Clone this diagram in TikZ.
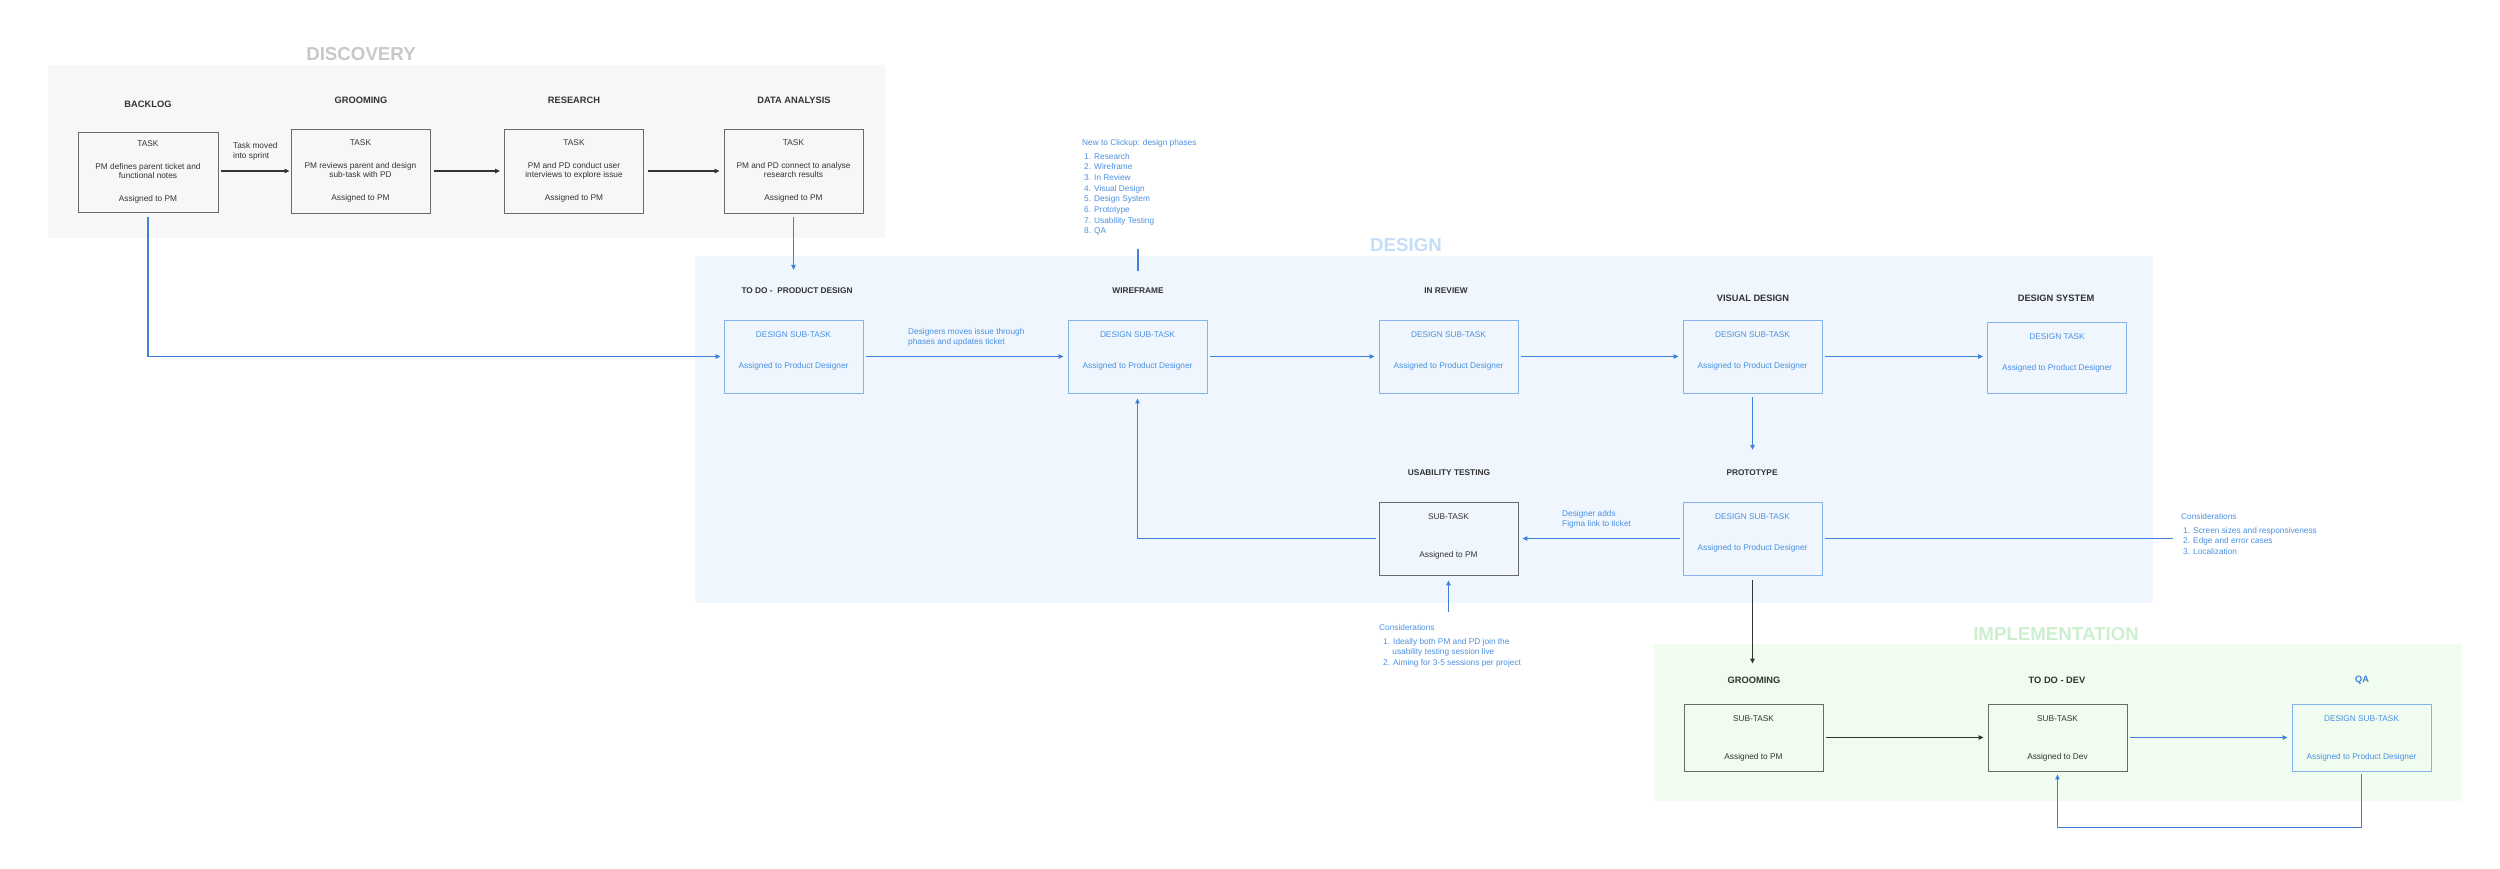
\documentclass[tikz,border=0pt]{standalone}
\usepackage{fontspec}
\setmainfont{Liberation Sans}
\usetikzlibrary{arrows.meta,calc}
\definecolor{ink}{HTML}{333333}
\definecolor{boxline}{HTML}{6A6A6A}
\definecolor{bluetxt}{HTML}{4A8FE2}
\definecolor{blueline}{HTML}{3F80D8}
\definecolor{blueedge}{HTML}{86B3EE}
\definecolor{discfill}{HTML}{F7F7F7}
\definecolor{disctitle}{HTML}{C8C8C8}
\definecolor{desfill}{HTML}{EFF6FD}
\definecolor{destitle}{HTML}{C4DEF8}
\definecolor{impfill}{HTML}{EFFCEF}
\definecolor{imptitle}{HTML}{CBEFCF}
\begin{document}
\begin{tikzpicture}[x=1pt,y=-1pt,
  ptitle/.style={font=\fontsize{18.7}{20}\selectfont\bfseries, inner sep=0},
  lbl/.style={font=\fontsize{9.3}{11}\selectfont\bfseries, text=ink, inner sep=0},
  slbl/.style={font=\fontsize{8.3}{10}\selectfont\bfseries, text=ink, inner sep=0},
  kbox/.style={draw=boxline, line width=0.9pt, minimum width=139pt, inner sep=0},
  bbox/.style={draw=blueedge, line width=0.9pt, minimum width=139pt, inner sep=0},
  ktx/.style={font=\fontsize{8.3}{9.8}\selectfont, text=ink, align=center, inner sep=0},
  btx/.style={font=\fontsize{8.3}{9.8}\selectfont, text=bluetxt, align=center, inner sep=0},
  note/.style={font=\fontsize{8.3}{10.67}\selectfont, text=bluetxt, align=left, inner sep=0, anchor=north west},
  karrow/.style={draw=ink, line width=1.1pt, -{Triangle[length=5pt,width=4.5pt]}},
  barrow/.style={draw=blueline, line width=1.1pt, -{Triangle[length=5pt,width=4.5pt]}},
  bline/.style={draw=blueline, line width=1.1pt},
]
\useasboundingbox (0,0) rectangle (2500,868);
% panels
\fill[discfill] (48,65) rectangle (885,238);
\fill[desfill] (695,256) rectangle (2153,603);
\fill[impfill] (1654,644) rectangle (2461,801);
\node[ptitle,text=disctitle] (tdisc) at (361,54) {DISCOVERY};
\node[ptitle,text=destitle] (tdes) at (1406,245) {DESIGN};
\node[ptitle,text=imptitle] (timp) at (2056,634) {IMPLEMENTATION};

% discovery
\node[lbl] (bll) at (148,104) {BACKLOG};
\node[lbl] (grl) at (361,100) {GROOMING};
\node[lbl] (rsl) at (574,100) {RESEARCH};
\node[lbl] (dal) at (794,100) {DATA ANALYSIS};
\node[kbox, minimum width=140pt, minimum height=80pt] (bl) at (148,172) {};
\node[kbox, minimum height=84pt] (gr) at (360.5,171) {};
\node[kbox, minimum height=84pt] (rs) at (574,171) {};
\node[kbox, minimum height=84pt] (da) at (793.5,171) {};
\node[ktx] (blt) at (bl.center) {TASK\\[12.5pt]PM defines parent ticket and\\functional notes\\[12.5pt]Assigned to PM};
\node[ktx] (grt) at (gr.center) {TASK\\[12.5pt]PM reviews parent and design\\sub-task with PD\\[12.5pt]Assigned to PM};
\node[ktx] (rst) at (rs.center) {TASK\\[12.5pt]PM and PD conduct user\\interviews to explore issue\\[12.5pt]Assigned to PM};
\node[ktx] (dat) at (da.center) {TASK\\[12.5pt]PM and PD connect to analyse\\research results\\[12.5pt]Assigned to PM};
\node[note, text=ink, font=\fontsize{8.3}{10}\selectfont] (tmv) at (233,142) {Task moved\\into sprint};

% design row 1
\node[slbl] (tdl) at (797,291) {TO DO - \ PRODUCT DESIGN};
\node[slbl] (wfl) at (1138,291) {WIREFRAME};
\node[slbl] (irl) at (1446,291) {IN REVIEW};
\node[lbl] (vdl) at (1753,298) {VISUAL DESIGN};
\node[lbl] (dsl) at (2056,298) {DESIGN SYSTEM};
\node[bbox, minimum height=73pt] (todo) at (793.5,356.5) {};
\node[bbox, minimum height=73pt] (wf) at (1137.5,356.5) {};
\node[bbox, minimum height=73pt] (ir) at (1448.5,356.5) {};
\node[bbox, minimum height=73pt] (vd) at (1752.5,356.5) {};
\node[bbox, minimum height=71pt] (ds) at (2057,357.5) {};
\node[btx] (todo1) at ($(todo.center)+(0,-21.5)$) {DESIGN SUB-TASK};
\node[btx] (todo2) at ($(todo.center)+(0,9.5)$) {Assigned to Product Designer};
\node[btx] (wf1) at ($(wf.center)+(0,-21.5)$) {DESIGN SUB-TASK};
\node[btx] (wf2) at ($(wf.center)+(0,9.5)$) {Assigned to Product Designer};
\node[btx] (ir1) at ($(ir.center)+(0,-21.5)$) {DESIGN SUB-TASK};
\node[btx] (ir2) at ($(ir.center)+(0,9.5)$) {Assigned to Product Designer};
\node[btx] (vd1) at ($(vd.center)+(0,-21.5)$) {DESIGN SUB-TASK};
\node[btx] (vd2) at ($(vd.center)+(0,9.5)$) {Assigned to Product Designer};
\node[btx] (ds1) at ($(ds.center)+(0,-20.5)$) {DESIGN TASK};
\node[btx] (ds2) at ($(ds.center)+(0,10.5)$) {Assigned to Product Designer};
\node[note, font=\fontsize{8.3}{10}\selectfont] (dmv) at (908,328) {Designers moves issue through\\phases and updates ticket};

% design row 2
\node[slbl] (usl) at (1449,473) {USABILITY TESTING};
\node[slbl] (prl) at (1752,473) {PROTOTYPE};
\node[kbox, minimum height=73pt] (us) at (1448.5,538.5) {};
\node[bbox, minimum height=73pt] (pr) at (1752.5,538.5) {};
\node[ktx] (us1) at ($(us.center)+(0,-21.5)$) {SUB-TASK};
\node[ktx] (us2) at ($(us.center)+(0,16.5)$) {Assigned to PM};
\node[btx] (pr1) at ($(pr.center)+(0,-21.5)$) {DESIGN SUB-TASK};
\node[btx] (pr2) at ($(pr.center)+(0,9.5)$) {Assigned to Product Designer};
\node[note, font=\fontsize{8.3}{10}\selectfont] (fig) at (1562,510) {Designer adds\\Figma link to ticket};

% notes
\node[note] (n1) at (1082,139) {New to Clickup: design phases\\[3.3pt]
\hspace*{2pt}1. Research\\\hspace*{2pt}2. Wireframe\\\hspace*{2pt}3. In Review\\\hspace*{2pt}4. Visual Design\\
\hspace*{2pt}5. Design System\\\hspace*{2pt}6. Prototype\\\hspace*{2pt}7. Usability Testing\\\hspace*{2pt}8. QA};
\node[note] (n2) at (2181,513) {Considerations\\[3.3pt]
\hspace*{2pt}1. Screen sizes and responsiveness\\\hspace*{2pt}2. Edge and error cases\\\hspace*{2pt}3. Localization};
\node[note] (n3) at (1379,624) {Considerations\\[3.3pt]
\hspace*{4pt}1. Ideally both PM and PD join the\\\hspace*{13.2pt}usability testing session live\\\hspace*{4pt}2. Aiming for 3-5 sessions per project};

% implementation
\node[lbl] (igl) at (1754,680) {GROOMING};
\node[lbl] (tddl) at (2057,680) {TO DO - DEV};
\node[lbl, text=blueline] (qal) at (2362,680) {QA};
\node[kbox, minimum height=67pt] (ig) at (1753.5,737.5) {};
\node[kbox, minimum height=67pt] (tdd) at (2057.5,737.5) {};
\node[bbox, minimum height=67pt] (qa) at (2361.5,737.5) {};
\node[ktx] (ig1) at ($(ig.center)+(0,-18.5)$) {SUB-TASK};
\node[ktx] (ig2) at ($(ig.center)+(0,19.5)$) {Assigned to PM};
\node[ktx] (tdd1) at ($(tdd.center)+(0,-18.5)$) {SUB-TASK};
\node[ktx] (tdd2) at ($(tdd.center)+(0,19.5)$) {Assigned to Dev};
\node[btx] (qa1) at ($(qa.center)+(0,-18.5)$) {DESIGN SUB-TASK};
\node[btx] (qa2) at ($(qa.center)+(0,19.5)$) {Assigned to Product Designer};

% connectors: discovery
\draw[karrow, shorten <=3pt, shorten >=1pt] (bl.east |- gr.west) -- (gr.west);
\draw[karrow, shorten <=4pt, shorten >=4pt] (gr.east) -- (rs.west);
\draw[karrow, shorten <=4pt, shorten >=4pt] (rs.east) -- (da.west);
\draw[barrow, shorten <=4pt, shorten >=18pt] (da.south) -- (da.south |- tdl.north);
\draw[barrow, shorten <=5pt, shorten >=3pt] (bl.south) |- (todo.west);
% design
\draw[bline, shorten <=13pt, shorten >=17pt] (wfl.north |- n1.south) -- (wfl.north);
\draw[barrow, shorten <=3pt, shorten >=4pt] (todo.east) -- (wf.west);
\draw[barrow, shorten <=3pt, shorten >=4pt] (wf.east) -- (ir.west);
\draw[barrow, shorten <=3pt, shorten >=4pt] (ir.east) -- (vd.west);
\draw[barrow, shorten <=3pt, shorten >=4pt] (vd.east) -- (vd.east -| ds.west);
\draw[barrow, shorten <=4pt, shorten >=20pt] (vd.south) -- (vd.south |- prl.north);
\draw[barrow, shorten <=3pt, shorten >=4pt] (pr.west) -- (us.east);
\draw[barrow, shorten <=3pt, shorten >=5pt] (us.west) -| (wf.south);
\draw[bline, shorten <=3pt, shorten >=8pt] (pr.east) -- (pr.east -| n2.west);
\coordinate (n3top) at ($(us.south |- n3.north)+(0,-12)$);
\draw[barrow, shorten >=5pt] (n3top) -- (us.south);
\draw[karrow, shorten <=5pt, shorten >=13pt] (pr.south) -- (pr.south |- igl.north);
% implementation
\draw[karrow, shorten <=3pt, shorten >=4pt] (ig.east) -- (tdd.west);
\draw[barrow, shorten <=3pt, shorten >=4pt] (tdd.east) -- (qa.west);
\draw[barrow, shorten <=3pt, shorten >=3pt] (qa.south) -- ++(0,56) -| (tdd.south);
\end{tikzpicture}
\end{document}
